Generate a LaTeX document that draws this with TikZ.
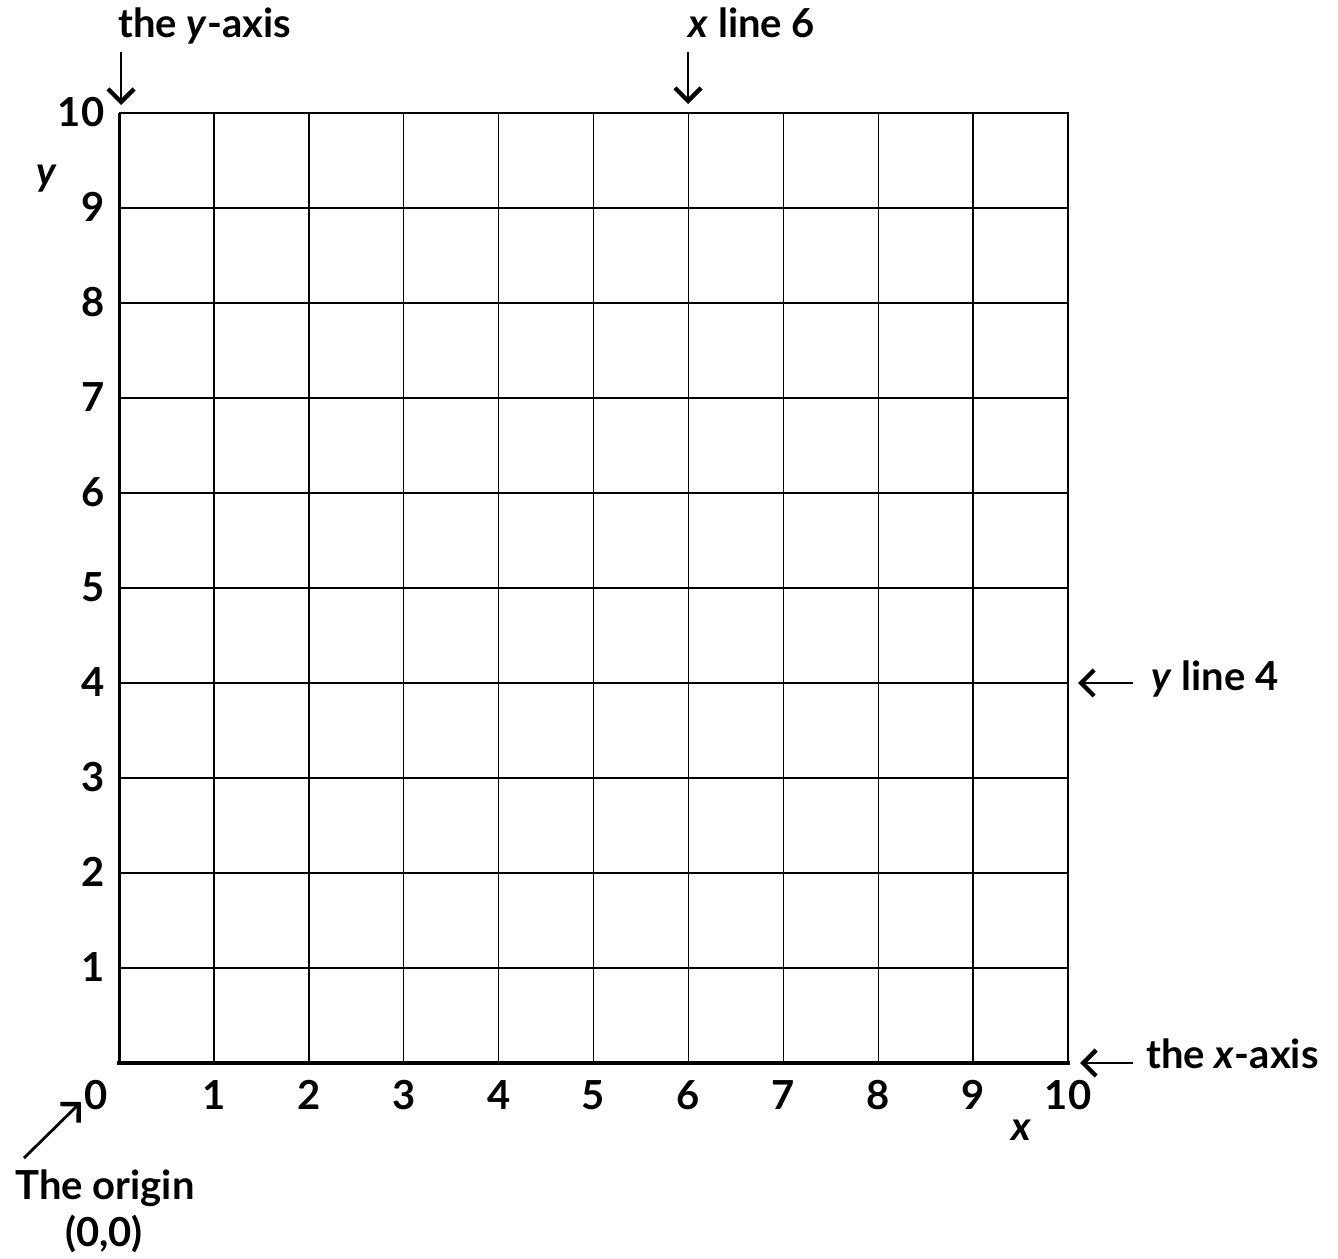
\documentclass[tikz,border=0pt]{standalone}
\usepackage{fontspec}
\setmainfont{Lato}
\usetikzlibrary{arrows.meta}
\tikzset{
  lbl/.style={font=\fontsize{20}{23}\selectfont\bfseries, inner sep=0pt},
  gridline/.style={line width=0.7pt},
  frameline/.style={line width=1pt},
  axisl/.style={line width=1.5pt},
  axisb/.style={line width=2pt},
  pointer/.style={-{Straight Barb[length=6.5pt,width=13pt,line width=2.2pt]}, line width=1.4pt},
}
\begin{document}
\begin{tikzpicture}[x=0.5pt,y=-0.5pt]
\useasboundingbox[fill=white] (0,0) rectangle (1338,1258);
\begin{scope}[shift={(119,1063)}, x=47.45pt, y=47.5pt]
  \foreach \i in {1,...,9} {
    \draw[gridline] (\i,0) -- (\i,10);
    \draw[gridline] (0,\i) -- (10,\i);
  }
  \draw[frameline] (0,10) -- (10,10) -- (10,0);
  \draw[axisl] (0,0) -- (0,10);
  \draw[axisb, line cap=rect] (0,0) -- (10,0);
  \foreach \i in {1,...,10} {
    \node[lbl, anchor=base east] (ylab\i) at (-0.15,{\i-0.147}) {\i};
    \node[lbl, anchor=base] (xlab\i) at (\i,-0.49) {\i};
  }
  \node[lbl, anchor=base] (xlab0) at (-0.24,-0.49) {0};
\end{scope}
% axis names
\node[lbl, anchor=base] (yname) at (46,185) {\itshape y};
\node[lbl, anchor=base] (xname) at (1021,1140) {\itshape x};
% callout labels
\node[lbl, anchor=base west] (tya) at (118,37) {the \textit{y}-axis};
\node[lbl, anchor=base west] (xl6) at (688,37) {\textit{x} line 6};
\node[lbl, anchor=base west] (yl4) at (1151,690) {\textit{y} line 4};
\node[lbl, anchor=base west] (txa) at (1146,1068) {the \textit{x}-axis};
\node[lbl, anchor=base] (orig) at (105,1199) {The origin};
\node[lbl, anchor=base] (origc) at (104,1246) {(0,0)};
% arrow ends
\coordinate (a1s) at (121,52);  \coordinate (a1e) at (121,105);
\coordinate (a2s) at (688,52);  \coordinate (a2e) at (688,104);
\coordinate (a3s) at (1133,683); \coordinate (a3e) at (1078,683);
\coordinate (a4s) at (1133,1063); \coordinate (a4e) at (1080,1063);
\coordinate (a5s) at (24,1158); \coordinate (a5e) at (81,1102);
\draw[pointer] (a1s) -- (a1e);
\draw[pointer] (a2s) -- (a2e);
\draw[pointer] (a3s) -- (a3e);
\draw[pointer] (a4s) -- (a4e);
\draw[pointer] (a5s) -- (a5e);
\end{tikzpicture}
\end{document}
